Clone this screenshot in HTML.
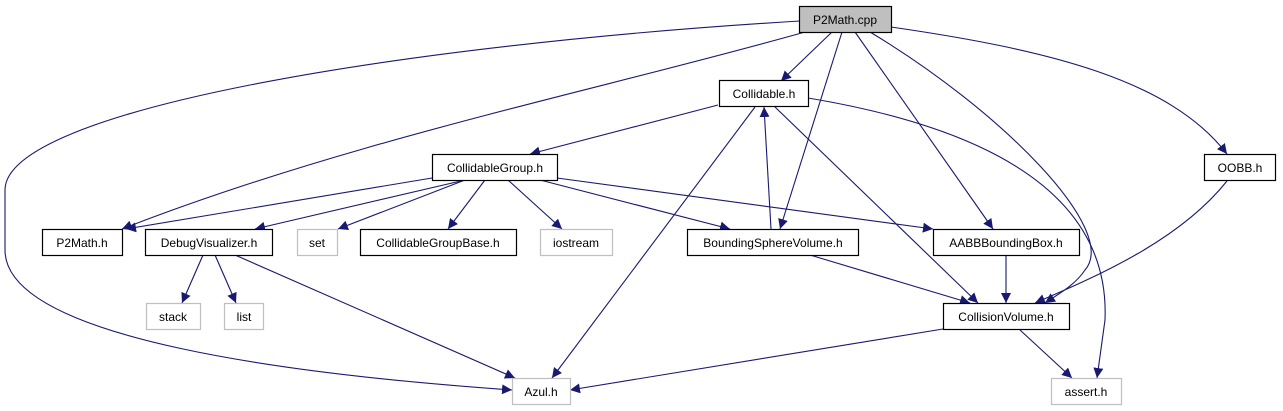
<!DOCTYPE html>
<html><head><meta charset="utf-8"><style>
html,body{margin:0;padding:0;background:#fff;}
svg{display:block;}
text{font-family:"Liberation Sans",sans-serif;font-size:12px;}
</style></head><body>
<svg width="1283" height="411" viewBox="0 0 1283 411" xmlns="http://www.w3.org/2000/svg">
<defs>
<marker id="a" viewBox="0 0 10 10" refX="10" refY="5" markerWidth="10" markerHeight="10" markerUnits="userSpaceOnUse" orient="auto">
<path d="M0,0 L10,5 L0,10 z" fill="#191970"/>
</marker>
</defs>
<g fill="none" stroke="#191970" stroke-width="1.1" marker-end="url(#a)">
<path d="M800,21 C400,45 5,110 5,190 L5,250 C5,340 300,375 512,390"/>
<path d="M805,32 C600,90 350,140 122,229"/>
<path d="M832,32 L781,81"/>
<path d="M842,32 L780,229"/>
<path d="M855,32 L993,229"/>
<path d="M870,32 C1000,110 1120,230 1085,270 C1075,285 1060,293 1045,303"/>
<path d="M891,27 C1050,50 1170,80 1227,154"/>
<path d="M718,105 L530,154"/>
<path d="M755,107 L552,378"/>
<path d="M775,107 L978,303"/>
<path d="M808,98 C1000,130 1110,200 1105,320 L1097,378"/>
<path d="M771,229 L764,107"/>
<path d="M432,178 L126,229"/>
<path d="M465,180 L255,229"/>
<path d="M465,180 L338,229"/>
<path d="M485,180 L448,229"/>
<path d="M508,180 L562,229"/>
<path d="M540,180 L730,229"/>
<path d="M557,178 L933,229"/>
<path d="M203,255 L182,303"/>
<path d="M215,255 L236,303"/>
<path d="M235,255 L515,378"/>
<path d="M810,255 L970,303"/>
<path d="M1006,255 L1006,303"/>
<path d="M1227,181 C1180,240 1100,275 1035,303"/>
<path d="M943,329 L570,390"/>
<path d="M1020,330 L1072,378"/>
</g>
<g stroke-width="1.2">
<rect x="799.5" y="6.5" width="92" height="26" fill="#bfbfbf" stroke="#000"/>
<rect x="719.5" y="80.5" width="89" height="26" fill="#fff" stroke="#000"/>
<rect x="432.5" y="154.5" width="125" height="26" fill="#fff" stroke="#000"/>
<rect x="1204.5" y="154.5" width="71" height="26" fill="#fff" stroke="#000"/>
<rect x="42.5" y="229.5" width="80" height="26" fill="#fff" stroke="#000"/>
<rect x="145.5" y="229.5" width="127" height="26" fill="#fff" stroke="#000"/>
<rect x="297.5" y="229.5" width="40" height="26" fill="#fff" stroke="#bfbfbf"/>
<rect x="360.5" y="229.5" width="156" height="26" fill="#fff" stroke="#000"/>
<rect x="540.5" y="229.5" width="72" height="26" fill="#fff" stroke="#bfbfbf"/>
<rect x="687.5" y="229.5" width="171" height="26" fill="#fff" stroke="#000"/>
<rect x="933.5" y="229.5" width="146" height="26" fill="#fff" stroke="#000"/>
<rect x="146.5" y="303.5" width="54" height="26" fill="#fff" stroke="#bfbfbf"/>
<rect x="224.5" y="303.5" width="39" height="26" fill="#fff" stroke="#bfbfbf"/>
<rect x="943.5" y="303.5" width="126" height="26" fill="#fff" stroke="#000"/>
<rect x="512.5" y="378.5" width="58" height="26" fill="#fff" stroke="#bfbfbf"/>
<rect x="1051.5" y="378.5" width="70" height="26" fill="#fff" stroke="#bfbfbf"/>
</g>
<g text-anchor="middle" fill="#000">
<text x="845" y="24">P2Math.cpp</text>
<text x="764" y="98">Collidable.h</text>
<text x="495" y="172">CollidableGroup.h</text>
<text x="1240" y="172">OOBB.h</text>
<text x="82" y="247">P2Math.h</text>
<text x="209" y="247">DebugVisualizer.h</text>
<text x="317" y="247">set</text>
<text x="438" y="247">CollidableGroupBase.h</text>
<text x="576" y="247">iostream</text>
<text x="773" y="247">BoundingSphereVolume.h</text>
<text x="1006" y="247">AABBBoundingBox.h</text>
<text x="173" y="321">stack</text>
<text x="244" y="321">list</text>
<text x="1006" y="321">CollisionVolume.h</text>
<text x="541" y="396">Azul.h</text>
<text x="1086" y="396">assert.h</text>
</g>
</svg>
</body></html>
